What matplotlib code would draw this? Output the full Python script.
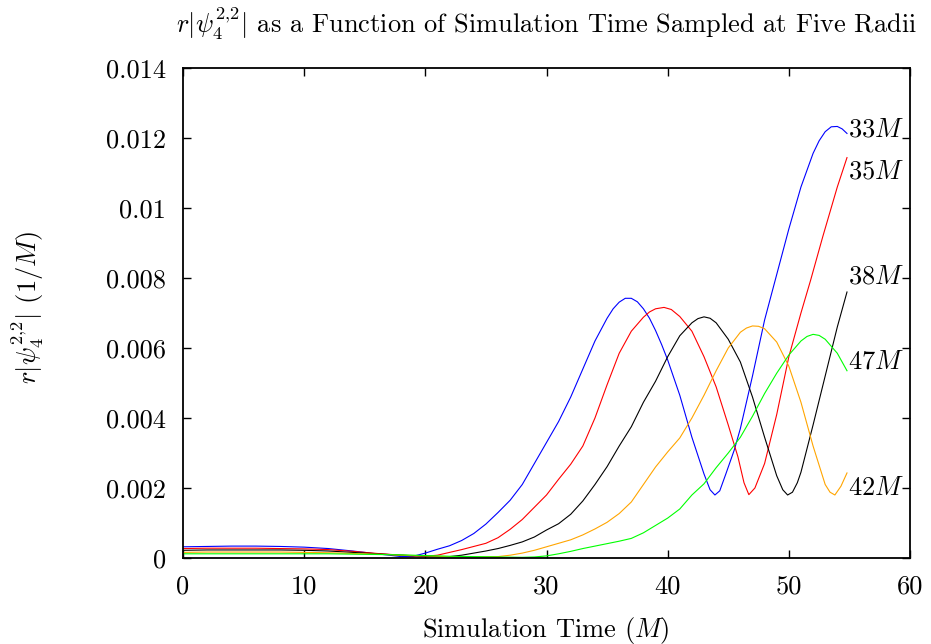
import matplotlib
matplotlib.use("Agg")
import matplotlib.pyplot as plt

plt.rcParams['font.family'] = ['cmr10']
plt.rcParams['mathtext.fontset'] = 'cm'
plt.rcParams['axes.formatter.use_mathtext'] = True

# ---- data ----
t_33 = [0, 2, 4, 6, 8, 10, 12, 14, 16, 17, 18, 19, 20, 21, 22, 23, 24, 25, 26, 27, 28, 29, 30,
        31, 32, 33, 34, 35, 35.5, 36, 36.5, 37, 37.5, 38, 38.5, 39, 39.5, 40, 41, 42, 43, 43.5,
        43.9, 44.3, 44.8, 45.5, 46, 47, 48, 49, 50, 51, 52, 52.5, 53, 53.5, 54, 54.4, 54.8]
v_33 = [0.00032, 0.00033, 0.00034, 0.00034, 0.00033, 0.00031, 0.00027, 0.00020, 0.00012, 0.00008,
        0.00004, 0.00005, 0.00014, 0.00025, 0.00035, 0.00050, 0.00070, 0.00097, 0.00130, 0.00165,
        0.00210, 0.00270, 0.00330, 0.00390, 0.00460, 0.00540, 0.00620, 0.00685, 0.00712, 0.00731,
        0.00742, 0.00742, 0.00732, 0.00712, 0.00685, 0.00650, 0.00610, 0.00566, 0.00465, 0.00345,
        0.00240, 0.00195, 0.00180, 0.00192, 0.00240, 0.00309, 0.00370, 0.00520, 0.00680, 0.00810,
        0.00940, 0.01060, 0.01156, 0.01192, 0.01218, 0.01232, 0.01233, 0.01226, 0.01213]

t_35 = [0, 2, 4, 6, 8, 10, 12, 14, 16, 18, 19, 20, 21, 22, 23, 24, 25, 26, 27, 28, 29, 30, 31, 32,
        33, 34, 35, 36, 37, 38, 38.5, 39, 39.7, 40.3, 41, 42, 43, 44, 45, 45.8, 46.3, 46.7, 47.2,
        48, 49, 50, 51, 51.8, 52.8, 54, 54.8]
v_35 = [0.00027, 0.00028, 0.00028, 0.00028, 0.00027, 0.00026, 0.00024, 0.00019, 0.00013, 0.00008,
        0.00006, 0.00005, 0.00008, 0.00016, 0.00024, 0.00033, 0.00042, 0.00058, 0.00082, 0.00110,
        0.00145, 0.00180, 0.00225, 0.00268, 0.00320, 0.00400, 0.00495, 0.00585, 0.00648, 0.00688,
        0.00703, 0.00712, 0.00716, 0.00710, 0.00690, 0.00648, 0.00575, 0.00489, 0.00380, 0.00289,
        0.00215, 0.00181, 0.00200, 0.00270, 0.00410, 0.00575, 0.00700, 0.00794, 0.00918, 0.01060,
        0.01144]

t_38 = [0, 2, 4, 6, 8, 10, 12, 14, 16, 18, 20, 21, 22, 23, 24, 25, 26, 27, 28, 29, 30, 31, 32, 33,
        34, 35, 36, 37, 38, 39, 40, 41, 42, 42.5, 43, 43.5, 44, 45, 46, 47, 48, 49, 49.5, 49.9,
        50.3, 50.7, 51, 52, 53, 54, 54.8]
v_38 = [0.00022, 0.00023, 0.00023, 0.00023, 0.00023, 0.00022, 0.00020, 0.00016, 0.00012, 0.00008,
        0.00005, 0.00004, 0.00004, 0.00008, 0.00014, 0.00020, 0.00027, 0.00036, 0.00046, 0.00060,
        0.00080, 0.00098, 0.00125, 0.00163, 0.00210, 0.00261, 0.00320, 0.00375, 0.00445, 0.00505,
        0.00575, 0.00635, 0.00672, 0.00684, 0.00689, 0.00685, 0.00672, 0.00625, 0.00560, 0.00460,
        0.00345, 0.00235, 0.00195, 0.00180, 0.00188, 0.00215, 0.00245, 0.00380, 0.00520, 0.00660,
        0.00760]

t_42 = [0, 2, 4, 6, 8, 10, 12, 14, 16, 18, 20, 22, 24, 26, 27, 28, 29, 30, 31, 32, 33, 34, 35, 36,
        37, 38, 39, 40, 41, 42, 43, 44, 45, 46, 46.5, 47, 47.5, 48, 49, 50, 51, 52, 53, 53.4, 53.8,
        54.3, 54.8]
v_42 = [0.00016, 0.00017, 0.00017, 0.00017, 0.00017, 0.00016, 0.00015, 0.00013, 0.00011, 0.00008,
        0.00006, 0.00004, 0.00003, 0.00004, 0.00008, 0.00014, 0.00022, 0.00032, 0.00042, 0.00052,
        0.00066, 0.00083, 0.00102, 0.00127, 0.00160, 0.00210, 0.00260, 0.00303, 0.00343, 0.00400,
        0.00465, 0.00535, 0.00600, 0.00645, 0.00657, 0.00663, 0.00662, 0.00655, 0.00617, 0.00548,
        0.00445, 0.00320, 0.00210, 0.00188, 0.00180, 0.00205, 0.00243]

t_47 = [0, 2, 4, 6, 8, 10, 12, 14, 16, 18, 20, 22, 24, 26, 28, 29, 30, 31, 32, 33, 34, 35, 36, 37,
        38, 39, 40, 41, 42, 43, 44, 45, 46, 47, 48, 49, 50, 51, 51.5, 52, 52.5, 53, 54, 54.8]
v_47 = [0.00012, 0.00012, 0.00012, 0.00012, 0.00012, 0.00012, 0.00012, 0.00011, 0.00010, 0.00009,
        0.00007, 0.00005, 0.00004, 0.00003, 0.00002, 0.00003, 0.00006, 0.00012, 0.00019, 0.00027,
        0.00034, 0.00041, 0.00048, 0.00056, 0.00072, 0.00093, 0.00114, 0.00140, 0.00180, 0.00212,
        0.00258, 0.00300, 0.00345, 0.00405, 0.00470, 0.00528, 0.00580, 0.00620, 0.00633, 0.00639,
        0.00636, 0.00625, 0.00585, 0.00535]

series_names = ['33M', '35M', '38M', '42M', '47M']
series_t = [t_33, t_35, t_38, t_42, t_47]
series_v = [v_33, v_35, v_38, v_42, v_47]
series_colors = ['#0000ff', '#ff0000', '#000000', '#ffa500', '#00ff00']
label_texts = [r'$33M$', r'$35M$', r'$38M$', r'$42M$', r'$47M$']
label_y = [0.01225, 0.01103, 0.00803, 0.00200, 0.00560]

x_ticks = [0, 10, 20, 30, 40, 50, 60]
x_ticklabels = ['0', '10', '20', '30', '40', '50', '60']
y_ticks = [0, 0.002, 0.004, 0.006, 0.008, 0.010, 0.012, 0.014]
y_ticklabels = ['0', '0.002', '0.004', '0.006', '0.008', '0.01', '0.012', '0.014']

# ---- figure ----
W, H = 931, 644
FS = 19
fig = plt.figure(figsize=(W / 100, H / 100), dpi=100)
ax = fig.add_axes([183 / W, (H - 558) / H, (910 - 183) / W, (558 - 68) / H])

for tt, vv, c in zip(series_t, series_v, series_colors):
    ax.plot(tt, vv, color=c, lw=0.8)

for tt, txt, ly in zip(series_t, label_texts, label_y):
    ax.text(tt[-1] + 0.1, ly, txt, ha='left', va='center', fontsize=FS)

ax.set_xlim(0, 60)
ax.set_ylim(0, 0.014)
ax.set_xticks(x_ticks)
ax.set_xticklabels(x_ticklabels)
ax.set_yticks(y_ticks)
ax.set_yticklabels(y_ticklabels)
ax.tick_params(direction='in', length=6, width=1, top=True, right=True,
               labelsize=FS, pad=12)
for s in ax.spines.values():
    s.set_linewidth(1.3)

fig.text(546 / W, 1 - 24 / H,
         r'$r|\psi_4^{2{,}2}|$ as a Function of Simulation Time Sampled at Five Radii',
         ha='center', va='center', fontsize=FS)
fig.text(546 / W, 1 - 630 / H, r'Simulation Time $(M)$', ha='center', va='center', fontsize=FS)
fig.text(28 / W, 1 - 308 / H, r'$r|\psi_4^{2{,}2}|$ $(1/M)$', ha='center', va='center',
         rotation=90, fontsize=FS)

fig.savefig('out.png', dpi=100)
